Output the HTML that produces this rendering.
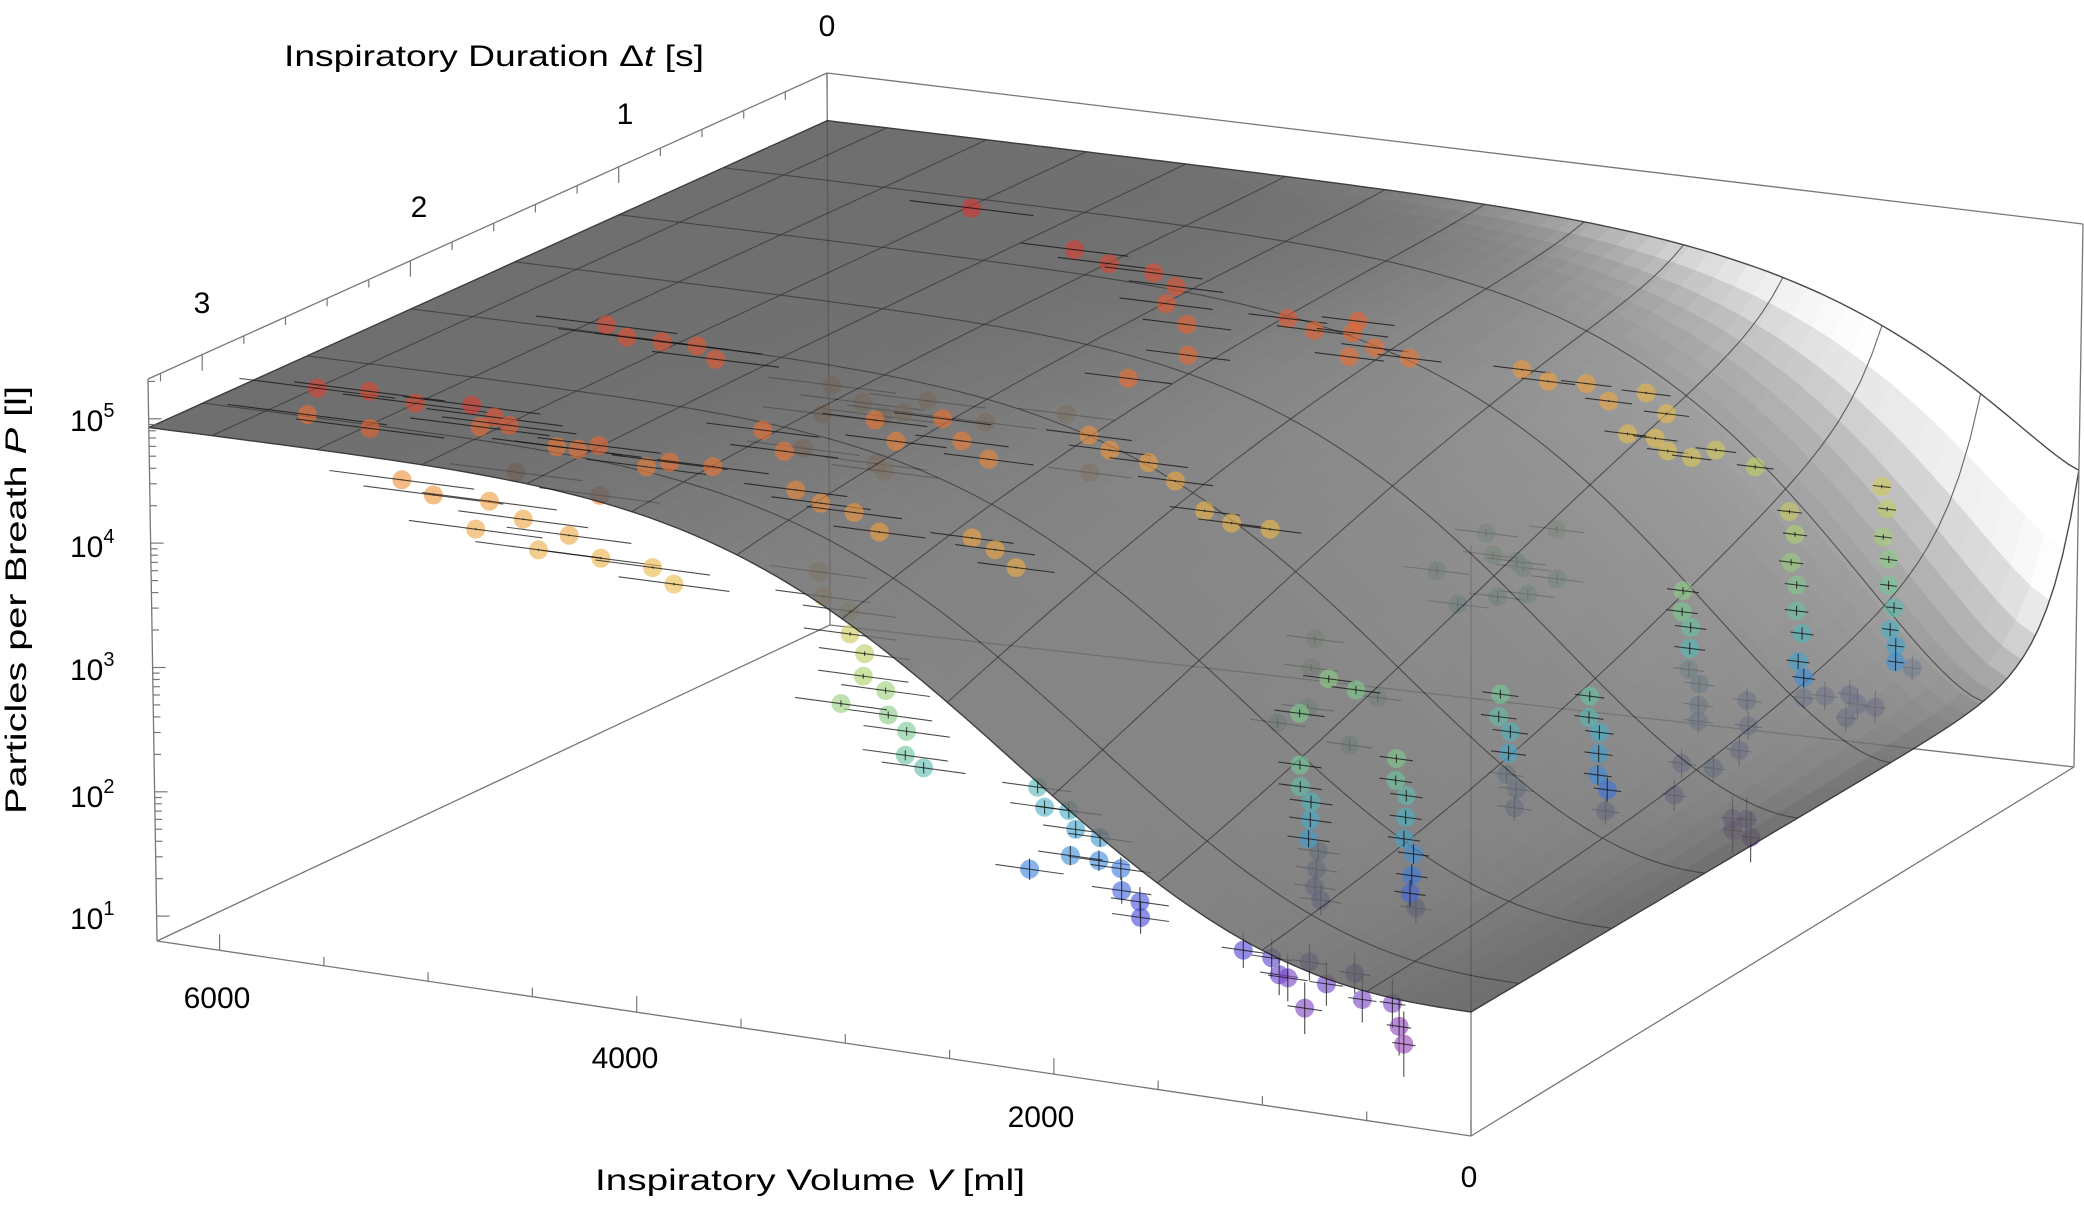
<!DOCTYPE html>
<html><head><meta charset="utf-8"><style>
html,body{margin:0;padding:0;background:#fff}
svg{display:block;font-family:"Liberation Sans",sans-serif}
</style></head><body>
<svg id="chart" width="2084" height="1208" viewBox="0 0 2084 1208" xmlns="http://www.w3.org/2000/svg">
<rect x="0" y="0" width="2084" height="1208" fill="#fff"/>
<g id="boxBack"></g>
<g id="ptsBelow"></g>
<g id="surface" opacity="0.84"></g>
<g id="boxFront"></g>
<g id="ptsAbove"></g>
<g id="ticks"></g>
<g fill="#000">
<text x="494" y="66" font-size="30" text-anchor="middle" textLength="420" lengthAdjust="spacingAndGlyphs">Inspiratory Duration Δ<tspan font-style="italic">t</tspan> [s]</text>
<text x="827" y="36" font-size="30" text-anchor="middle">0</text>
<text x="625" y="124" font-size="30" text-anchor="middle">1</text>
<text x="419" y="217" font-size="30" text-anchor="middle">2</text>
<text x="202" y="313" font-size="30" text-anchor="middle">3</text>
<text x="70" y="431" font-size="30">10<tspan font-size="20" dy="-14">5</tspan></text>
<text x="70" y="557" font-size="30">10<tspan font-size="20" dy="-14">4</tspan></text>
<text x="70" y="680" font-size="30">10<tspan font-size="20" dy="-14">3</tspan></text>
<text x="70" y="807" font-size="30">10<tspan font-size="20" dy="-14">2</tspan></text>
<text x="70" y="929" font-size="30">10<tspan font-size="20" dy="-14">1</tspan></text>
<text transform="translate(26,600) rotate(-90)" font-size="30" text-anchor="middle" textLength="428" lengthAdjust="spacingAndGlyphs">Particles per Breath <tspan font-style="italic">P</tspan> [l]</text>
<text x="217" y="1008" font-size="30" text-anchor="middle">6000</text>
<text x="625" y="1068" font-size="30" text-anchor="middle">4000</text>
<text x="1041" y="1127" font-size="30" text-anchor="middle">2000</text>
<text x="1469" y="1187" font-size="30" text-anchor="middle">0</text>
<text x="810" y="1190" font-size="30" text-anchor="middle" textLength="430" lengthAdjust="spacingAndGlyphs">Inspiratory Volume <tspan font-style="italic">V</tspan> [ml]</text>
</g>
</svg>
<script>
// ---- data (V in ml, t in s, log10 P) ----
const volumes = [
5900,5700,5450,5150,5120,6050,5600,
5250,5050,4900,4750,4600,4450,4300,4150,4950,4500,
5450,5250,5050,4850,4650,4450,4250,4100,4700,5000,
3550,3480,3420,3380,3330,3280,3230,3180,3130,3080,3030,3350,
2500,2420,2350,2280,2200,2150,2100,2050,1990,1950,2250,2400,
1400,1300,1200,1100,1000,900,800,700,650,600,1250,1050,
1420,1400,1385,1370,1360,1350,1340,1330,1320,
1000,985,970,955,945,935,925,915,905,
1140,1120,1100,1090,1080,1070,1060,
860,845,830,815,800,790,780,
980,965,950,935,920,905,890,880,
680,670,660,650,640,630,620,610,600,
400,390,380,370,360,350,340,330,320,
560,520,480,440,
3900,3750,3600,3450,3300,3800,
3150,3000,2850,2700,3050,
2900,2750,2600,2450,2300,2650,2500,
4100,3900,3700,3550,
4780,
2050,1900,1750,1600,
1600,1500,1400,1300,
5400,5250,5100,4950,4800,
3800,3650,3500,3350,
3000,2870,2750,
2500,2350,2200,
4900,4740,4600,4450,
1850,1745,1650,1800,
2150,1980,1850,2050,
650,592,540,700,
2300,2100,1900,2200,1950,2400,
800,750,900,500,450,850,700,600,
1900,1700,1600,2000,1550,
4500,4300,4000,3800,4200,3600,
3300,3100,3500,3200,4200,4000,
1700,1550,1350,1200
];
const durations = [
2.85,2.80,2.83,2.86,2.78,2.75,2.90,
2.72,2.78,2.70,2.75,2.80,2.72,2.76,2.70,2.85,2.90,
2.90,2.95,2.88,2.92,2.90,2.95,2.90,2.95,3.00,3.00,
2.80,2.85,2.78,2.82,2.80,2.86,2.80,2.84,2.80,2.86,2.82,2.90,
2.80,2.85,2.80,2.84,2.80,2.86,2.80,2.85,2.82,2.86,2.90,2.95,
2.92,2.88,2.95,2.90,2.92,2.88,2.95,2.90,2.92,2.95,2.85,2.98,
2.60,2.62,2.58,2.60,2.62,2.58,2.60,2.62,2.60,
2.55,2.57,2.53,2.55,2.57,2.53,2.55,2.57,2.55,
1.85,1.88,1.84,1.86,1.88,1.84,1.86,
1.68,1.70,1.66,1.68,1.70,1.66,1.68,
1.06,1.08,1.05,1.07,1.09,1.05,1.07,1.08,
0.82,0.80,0.83,0.81,0.82,0.80,0.83,0.81,0.82,
0.63,0.61,0.64,0.62,0.63,0.61,0.64,0.62,0.63,
1.24,1.28,1.25,1.27,
2.15,2.20,2.12,2.18,2.20,2.25,
1.85,1.90,1.86,1.88,1.95,
1.10,1.12,1.08,1.12,1.10,1.00,1.20,
0.95,0.98,0.96,1.00,
0.78,
0.78,0.80,0.76,0.80,
0.70,0.66,0.70,0.68,
1.95,2.00,1.98,1.96,2.02,
2.65,2.68,2.67,2.70,
2.60,2.62,2.64,
1.94,1.96,1.92,
1.35,1.36,1.40,1.33,
2.08,2.10,2.06,2.15,
0.82,0.84,0.80,0.90,
0.52,0.54,0.50,0.60,
0.70,0.75,0.90,0.95,0.70,0.85,
0.90,1.00,0.80,0.70,0.40,1.20,1.40,1.30,
2.20,2.30,2.00,1.90,2.20,
1.80,1.60,2.00,1.70,2.20,1.50,
1.20,1.40,1.10,1.60,2.40,2.50,
0.50,0.55,0.50,0.45
];
const logP = [
5.02,5.00,4.98,5.05,4.90,4.70,4.80,
4.75,4.85,4.65,4.70,4.80,4.60,4.70,4.65,4.55,4.50,
4.42,4.38,4.32,4.25,4.15,4.05,3.98,3.92,4.10,4.20,
4.02,3.88,3.72,3.58,3.42,3.30,3.15,3.00,2.85,2.72,2.60,3.10,
2.55,2.45,2.40,2.30,2.22,2.10,2.00,1.88,1.78,1.70,2.15,2.05,
1.62,1.55,1.50,1.58,1.45,1.52,1.40,1.35,1.20,1.10,1.38,1.30,
2.80,2.65,2.50,2.38,2.25,2.12,2.00,1.88,1.76,
2.90,2.75,2.60,2.45,2.30,2.15,2.00,1.88,1.75,
2.80,2.65,2.50,2.35,2.20,2.05,1.92,
2.70,2.55,2.40,2.25,2.10,1.95,1.80,
3.00,2.85,2.70,2.55,2.40,2.25,2.10,1.98,
3.50,3.30,3.10,2.90,2.70,2.50,2.30,2.15,2.00,
3.60,3.40,3.20,3.00,2.80,2.60,2.45,2.30,2.18,
1.40,1.35,1.42,1.30,
4.65,4.55,4.70,4.60,4.50,4.40,
4.45,4.40,4.30,4.20,4.25,
4.85,4.80,4.78,4.72,4.65,4.80,4.70,
5.05,5.00,4.95,4.90,
5.12,
4.35,4.30,4.28,4.20,
3.85,3.80,3.75,3.70,
4.95,4.92,4.90,4.88,4.85,
4.50,4.45,4.40,4.30,
4.25,4.20,4.10,
4.05,4.00,3.95,
4.10,4.00,3.95,4.05,
3.05,3.00,2.90,2.80,
2.85,2.80,2.70,2.60,
1.75,1.70,1.65,1.80,
2.90,2.75,2.65,2.55,3.00,2.70,
1.80,1.70,1.90,1.75,1.90,1.75,1.70,1.85,
2.70,2.90,2.80,3.10,2.60,
4.30,4.20,4.10,4.30,4.40,4.25,
4.80,4.75,4.85,4.70,4.70,4.65,
4.00,3.90,3.60,3.45
];
// surface fit parameters
const surfTop = 4.93;
const vTicks = [0,500,1000,1500,2000,2500,3000,3500,4000,4500,5000,5500,6000];
const tTicks = [0,0.2,0.4,0.6,0.8,1,1.2,1.4,1.6,1.8,2,2.2,2.4,2.6,2.8,3,3.2];
const pDecades = [1,2,3,4,5];

const VMAX=6300, TMAX=3.26, LMIN=0.8, LMAX=5.32;
const C={FLB:[157,941],FRB:[1471,1136],BLB:[830,625],BRB:[2074,767],
FLT:[148,379],FRT:[1471,546],BLT:[827,73],BRT:[2083,224]};
const NS='http://www.w3.org/2000/svg';
function bil(a,b,c,d,u,w,k){return a[k]*(1-u)*(1-w)+b[k]*u*(1-w)+c[k]*(1-u)*w+d[k]*u*w;}
function projUWH(u,w,h){
  const bx=bil(C.FLB,C.FRB,C.BLB,C.BRB,u,w,0), by=bil(C.FLB,C.FRB,C.BLB,C.BRB,u,w,1);
  const tx=bil(C.FLT,C.FRT,C.BLT,C.BRT,u,w,0), ty=bil(C.FLT,C.FRT,C.BLT,C.BRT,u,w,1);
  return [bx*(1-h)+tx*h, by*(1-h)+ty*h];
}
function proj(V,t,L){return projUWH((VMAX-V)/VMAX,(TMAX-t)/TMAX,(L-LMIN)/(LMAX-LMIN));}
function surf(V,t){
  const S0=1.75+1.52*Math.exp(-t/0.15);
  const Vs=1055+490*t, n=1.25+0.41*t;
  return S0+(surfTop-S0)*(1-Math.exp(-Math.pow(Math.max(V,0)/Vs,n)));
}
function mk(tag,attrs,parent){const e=document.createElementNS(NS,tag);for(const k in attrs)e.setAttribute(k,attrs[k]);parent.appendChild(e);return e;}
function pts(a){return a.map(p=>p[0].toFixed(1)+','+p[1].toFixed(1)).join(' ');}

// box edges
const boxBack=document.getElementById('boxBack');
const backEdges=[['BLT','BLB'],['BLB','BRB'],['BLB','FLB'],['FRB','FRT']];
backEdges.forEach(([a,b])=>{
  const l=mk('line',{x1:C[a][0],y1:C[a][1],x2:C[b][0],y2:C[b][1],stroke:'#777','stroke-width':1.3},boxBack);
  
  
});
const boxFront=document.getElementById('boxFront');
const frontEdges=[['FLT','BLT'],['BLT','BRT'],['BRT','BRB'],['FLB','FRB'],['FRB','BRB'],['FLT','FLB']];
frontEdges.forEach(([a,b])=>{
  const l=mk('line',{x1:C[a][0],y1:C[a][1],x2:C[b][0],y2:C[b][1],stroke:'#777','stroke-width':1.3},boxFront);
  
  
});

// surface
const sg=document.getElementById('surface');
const NU=64, NW=44;
function sp(i,j){const u=i/NU,w=j/NW;const V=VMAX*(1-u),t=TMAX*(1-w);return proj(V,t,surf(V,t));}
function hOf(u,w){const V=VMAX*(1-u),t=TMAX*(1-w);return (surf(V,t)-LMIN)/(LMAX-LMIN);}
for(let j=NW-1;j>=0;j--){
  for(let i=0;i<NU;i++){
    const uc=(i+0.5)/NU, wc=(j+0.5)/NW, e=0.004;
    const hu=(hOf(Math.min(uc+e,1),wc)-hOf(Math.max(uc-e,0),wc))/(2*e);
    const hw=(hOf(uc,Math.min(wc+e,1))-hOf(uc,Math.max(wc-e,0)))/(2*e);
    const nrm=Math.sqrt(hu*hu+hw*hw+1);
    const nu=-hu/nrm, nw=-hw/nrm;
    let b=0.33+0.12*Math.max(0,nu)+0.75*Math.max(0,-nw)*Math.pow(wc,2.2);
    b=Math.min(1,b);
    const g=Math.round(b*255);
    const col='rgb('+g+','+g+','+g+')';
    const q=mk('polygon',{points:pts([sp(i,j),sp(i+1,j),sp(i+1,j+1),sp(i,j+1)]),fill:col,stroke:col,'stroke-width':0.8},sg);
    
    
  }
}
// mesh lines
function poly(arr,sw,op,name){
  const p=mk('polyline',{points:pts(arr),fill:'none',stroke:'#111','stroke-width':sw,'stroke-opacity':op},sg);
  
  
}
for(let V=500;V<=6000;V+=500){const a=[];for(let k=0;k<=60;k++){const t=TMAX*k/60;a.push(proj(V,t,surf(V,t)));}poly(a,1.1,0.75,'mesh-line-volume');}
for(let t=0.5;t<TMAX;t+=0.5){const a=[];for(let k=0;k<=120;k++){const V=VMAX*k/120;a.push(proj(V,t,surf(V,t)));}poly(a,1.1,0.75,'mesh-line-duration');}
{const a=[];for(let k=0;k<=120;k++){const V=VMAX*k/120;a.push(proj(V,TMAX,surf(V,TMAX)));}poly(a,1.4,0.9,'surface-front-edge');}
{const a=[];for(let k=0;k<=120;k++){const V=VMAX*k/120;a.push(proj(V,0,surf(V,0)));}poly(a,1.4,0.9,'surface-back-edge');}
{const a=[];for(let k=0;k<=80;k++){const t=TMAX*k/80;a.push(proj(0,t,surf(0,t)));}poly(a,1.4,0.9,'surface-right-edge');}
{const a=[];for(let k=0;k<=20;k++){const t=TMAX*k/20;a.push(proj(VMAX,t,surf(VMAX,t)));}poly(a,1.4,0.9,'surface-left-edge');}

// colour map by log P
const cStops=[1.0,1.4,1.7,2.0,2.4,2.8,3.3,3.8,4.3,4.7,5.1];
const cCols=[[165,70,180],[120,70,200],[70,72,220],[60,125,225],[70,175,200],[115,200,150],[175,210,110],[230,195,80],[240,160,65],[235,112,50],[215,55,50]];
function colFor(L){
  if(L<=cStops[0])return cCols[0];
  for(let k=1;k<cStops.length;k++){if(L<=cStops[k]){const f=(L-cStops[k-1])/(cStops[k]-cStops[k-1]);return cCols[k].map((c,m)=>Math.round(cCols[k-1][m]+(c-cCols[k-1][m])*f));}}
  return cCols[cCols.length-1];
}
const below=document.getElementById('ptsBelow'), above=document.getElementById('ptsAbove');
for(let k=0;k<volumes.length;k++){
  const V=volumes[k],t=durations[k],L=logP[k];
  const par=(L>=surf(V,t)-0.35)?above:below;
  const g=mk('g',{},par);
  
  
  const c=proj(V,t,L), col=colFor(L);
  const circ=mk('circle',{cx:c[0].toFixed(1),cy:c[1].toFixed(1),r:9.5,fill:'rgb('+col.join(',')+')','fill-opacity':0.62},g);
  
  
  const ev=0.06*V+20, el=0.9/Math.sqrt(Math.pow(10,L));
  const a=proj(V-ev,t,L), b=proj(V+ev,t,L);
  const l1=mk('line',{x1:a[0].toFixed(1),y1:a[1].toFixed(1),x2:b[0].toFixed(1),y2:b[1].toFixed(1),stroke:'#111','stroke-width':1.1,'stroke-opacity':0.75},g);
  
  
  const p1=proj(V,t,L-el), p2=proj(V,t,L+el);
  const l2=mk('line',{x1:p1[0].toFixed(1),y1:p1[1].toFixed(1),x2:p2[0].toFixed(1),y2:p2[1].toFixed(1),stroke:'#111','stroke-width':1.1,'stroke-opacity':0.75},g);
  
  
}

// ticks
const tk=document.getElementById('ticks');
function tline(x1,y1,x2,y2,name){
  const l=mk('line',{x1:x1.toFixed(1),y1:y1.toFixed(1),x2:x2.toFixed(1),y2:y2.toFixed(1),stroke:'#777','stroke-width':1.2},tk);
  
  
}
vTicks.forEach(V=>{const p=proj(V,TMAX,LMIN);const len=(V%2000===0)?16:9;tline(p[0],p[1],p[0],p[1]-len,'volume-tick');});
tTicks.forEach(t=>{const p=proj(VMAX,t,LMAX);const major=Math.abs(t-Math.round(t))<1e-6;tline(p[0],p[1],p[0],p[1]+(major?16:8),'duration-tick');});
pDecades.forEach(d=>{for(let m=1;m<=9;m++){const L=d+Math.log10(m);if(L>LMAX)continue;const p=proj(VMAX,TMAX,L);tline(p[0],p[1],p[0]+(m===1?13:7),p[1],'p-tick');}});
</script>
</body></html>
